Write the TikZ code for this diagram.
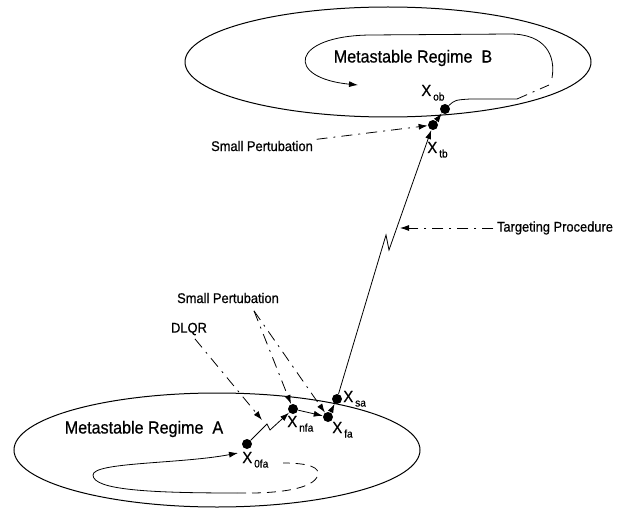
\documentclass[tikz,border=0pt]{standalone}
\usepackage{fontspec}
\setmainfont{Liberation Sans}[FakeStretch=0.92,FakeBold=0.6]
\usetikzlibrary{arrows.meta,calc,positioning}
\tikzset{
	dot/.style={circle,fill,inner sep=0pt,minimum size=10pt},
	caption/.style={font=\fontsize{14}{16}\selectfont},
	regime/.style={font=\fontsize{17.5}{20}\selectfont},
	xlab/.style={font=\fontsize{16}{18}\selectfont,inner sep=0pt,anchor=base west},
	dashdot/.style={dash pattern=on 11pt off 6pt on 2pt off 6pt},
	orbitdash/.style={dash pattern=on 9pt off 6pt},
	tip/.style={-{Latex[length=9pt,width=6pt]}},
}
\newcommand{\xsub}[1]{X\kern2pt\raisebox{-4.5pt}{\fontsize{11}{11}\selectfont #1}}

\begin{document}
\begin{tikzpicture}[x=1pt,y=-1pt,line width=0.8pt]
	\useasboundingbox (0,0) rectangle (626,508);
	% the two regimes
	\draw[line width=1pt] (388,62) ellipse (203pt and 55pt);
	\draw[line width=1pt] (217,450) ellipse (203pt and 57pt);
	\node[regime] (rb) at (413,58) {Metastable Regime~~B};
	\node[regime] (ra) at (144,429) {Metastable Regime~~A};
	% states
	\node[dot] (ob) at (445,109) {};
	\node[dot] (tb) at (433,125) {};
	\node[dot] (sa) at (337,399) {};
	\node[dot] (fa) at (328,417) {};
	\node[dot] (nfa) at (293,409) {};
	\node[dot] (ofa) at (247,444) {};
	\node[xlab] (lob) at (421,96) {\xsub{ob}};
	\node[xlab] (ltb) at (427,153) {\xsub{tb}};
	\node[xlab] (lsa) at (343,402) {\xsub{sa}};
	\node[xlab] (lfa) at (332,433) {\xsub{fa}};
	\node[xlab] (lnfa) at (287,427) {\xsub{nfa}};
	\node[xlab] (lofa) at (242,463) {\xsub{0fa}};
	% transfer
	\coordinate (za1) at (267,424);
	\coordinate (za2) at (270,430);
	\coordinate (zb1) at (386,235);
	\coordinate (zb2) at (389,250);
	\draw[tip] (ofa) -- (za1) -- (za2) -- (nfa);
	\draw[tip] (nfa) -- (fa);
	\draw[tip] (fa) -- (sa);
	\draw[tip] (sa) -- (zb1) -- (zb2) -- (tb);
	\draw[tip] (tb) -- (ob);
	% orbit in B
	\coordinate (bl) at (517,99);
	\coordinate (br) at (549,85);
	\coordinate (bt) at (552,78);
	\coordinate (be) at (358,85);
	\draw (ob) .. controls (455,100) .. (470,99) -- (bl);
	\draw[dashdot] (bl) -- (br);
	\draw[tip] (bt) .. controls (556,55) and (545,34) .. (510,34) -- (370,35) .. controls (290,36) and (285,78) .. (be);
	% orbit in A
	\coordinate (as) at (237,493);
	\coordinate (ae) at (283,463);
	\coordinate (at) at (238,453);
	\draw[tip] (as) .. controls (150,493) and (93,490) .. (93,475) .. controls (93,462) and (180,464) .. (at);
	\draw[orbitdash] (as) .. controls (290,494) and (318,486) .. (318,473) .. controls (318,465) and (300,463) .. (ae);
	% annotations
	\node[caption] (sp1) at (262,146) {Small Pertubation};
	\draw[dashdot,tip] (sp1) -- (tb);
	\node[caption] (tp) at (555,228) {Targeting Procedure};
	\coordinate (tpt) at (400,228);
	\draw[dashdot,tip] (tp) -- (tpt);
	\node[caption] (sp2) at (228,298) {Small Pertubation};
	\coordinate (sp2s) at ([xshift=26pt,yshift=-4pt]sp2.south);
	\draw[dashdot,tip] (sp2s) -- (nfa);
	\draw[dashdot,tip] (sp2s) -- (fa);
	\node[caption] (dlqr) at (189,329) {DLQR};
	\coordinate (dlqrt) at (262,420);
	\draw[dashdot,tip] ([xshift=6pt]dlqr.south) -- (dlqrt);
\end{tikzpicture}
\end{document}
